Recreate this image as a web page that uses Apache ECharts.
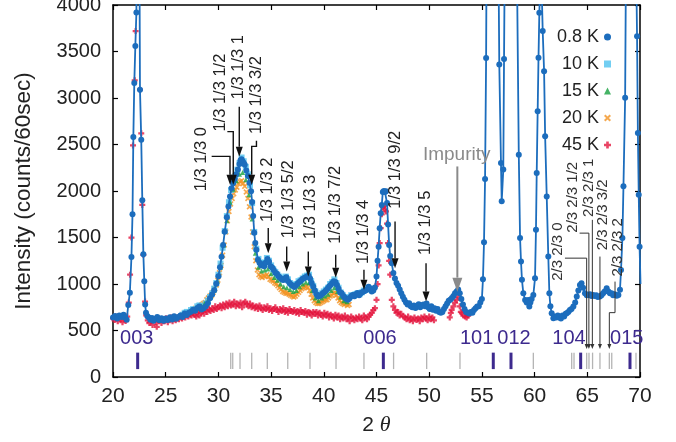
<!DOCTYPE html>
<html>
<head>
<meta charset="utf-8">
<script src="https://cdn.jsdelivr.net/npm/echarts@6/dist/echarts.min.js"></script>
<style>html,body{margin:0;padding:0;background:#fff}#chart{width:676px;height:442px}</style>
</head>
<body>
<div id="chart"></div>
<script>
// 0.8 K, line + dots (peaks above 4000 are clipped)
const k08 = [[20.0,640],[20.2,655],[20.4,630],[20.6,660],[20.8,645],[21.0,670],[21.15,640],[21.3,615],[21.45,775],[21.6,905],[21.75,1290],[21.85,1750],[21.93,2580],[22.02,3160],[22.12,3560],[22.22,3920],[22.35,7800],[22.45,6200],[22.56,3090],[22.68,2550],[22.78,1900],[22.88,1320],[22.97,1030],[23.05,780],[23.13,690],[23.25,655],[23.4,640],[23.55,615],[23.7,635],[23.85,605],[24.0,625],[24.2,645],[24.4,610],[24.6,632],[24.8,605],[25.0,628],[25.2,612],[25.4,642],[25.6,618],[25.8,652],[26.0,626],[26.2,644],[26.4,662],[26.6,646],[26.8,682],[27.0,668],[27.2,692],[27.4,702],[27.6,724],[27.8,712],[28.0,742],[28.2,758],[28.4,726],[28.6,738],[28.8,762],[29.0,792],[29.2,848],[29.4,888],[29.6,932],[29.8,1002],[30.0,1082],[30.15,1180],[30.3,1292],[30.45,1420],[30.6,1562],[30.8,1718],[30.95,1832],[31.1,1942],[31.25,2030],[31.4,2082],[31.55,2128],[31.7,2180],[31.85,2232],[32.0,2290],[32.1,2330],[32.2,2342],[32.3,2318],[32.4,2300],[32.5,2282],[32.65,2220],[32.8,2162],[32.95,2090],[33.1,1998],[33.2,1882],[33.3,1730],[33.4,1552],[33.5,1440],[33.6,1368],[33.75,1262],[33.9,1228],[34.05,1200],[34.2,1212],[34.35,1190],[34.5,1232],[34.65,1268],[34.8,1240],[34.95,1192],[35.1,1178],[35.25,1150],[35.4,1122],[35.55,1110],[35.7,1082],[35.85,1068],[36.0,1050],[36.15,1042],[36.3,1060],[36.45,1072],[36.6,1032],[36.75,1010],[36.9,992],[37.05,980],[37.2,968],[37.35,985],[37.5,1002],[37.65,1020],[37.8,1032],[37.95,1050],[38.1,1062],[38.25,1070],[38.4,1080],[38.55,1088],[38.7,1060],[38.85,1010],[39.0,972],[39.15,930],[39.3,890],[39.45,865],[39.6,870],[39.75,882],[39.9,900],[40.05,912],[40.2,930],[40.35,950],[40.5,972],[40.65,990],[40.8,1010],[40.95,1030],[41.1,1022],[41.25,990],[41.4,950],[41.55,912],[41.7,900],[41.85,870],[42.0,852],[42.15,840],[42.3,830],[42.45,850],[42.6,872],[42.75,882],[42.9,868],[43.05,890],[43.2,902],[43.35,880],[43.5,900],[43.65,912],[43.8,922],[43.95,930],[44.1,942],[44.25,970],[44.4,952],[44.55,920],[44.7,930],[44.85,962],[45.0,1080],[45.1,1250],[45.2,1400],[45.3,1600],[45.4,1760],[45.5,1850],[45.6,1990],[45.7,2000],[45.8,1990],[45.9,1996],[46.0,1870],[46.1,1640],[46.2,1420],[46.3,1300],[46.45,1222],[46.6,1118],[46.75,1060],[46.9,1010],[47.05,980],[47.2,940],[47.35,900],[47.5,862],[47.65,830],[47.8,802],[47.95,780],[48.1,792],[48.25,762],[48.4,750],[48.55,770],[48.7,742],[48.85,760],[49.0,782],[49.15,750],[49.3,770],[49.45,780],[49.6,760],[49.75,790],[49.9,750],[50.05,730],[50.2,760],[50.35,722],[50.5,740],[50.65,712],[50.8,730],[50.95,700],[51.1,690],[51.25,700],[51.4,730],[51.55,760],[51.7,790],[51.85,820],[52.0,830],[52.15,850],[52.3,872],[52.45,900],[52.6,920],[52.75,940],[52.9,900],[53.05,840],[53.2,780],[53.35,730],[53.5,700],[53.65,690],[53.8,682],[53.95,700],[54.1,690],[54.25,720],[54.4,740],[54.55,758],[54.7,760],[54.85,800],[55.0,840],[55.1,1050],[55.2,1450],[55.3,2130],[55.4,3430],[55.5,6000],[55.7,14000],[55.9,22000],[56.1,20000],[56.3,11000],[56.5,5500],[56.65,3360],[56.81,2300],[56.88,1890],[57.03,2230],[57.1,3420],[57.2,5000],[57.4,9000],[57.6,14000],[57.8,13000],[58.0,8000],[58.2,5000],[58.35,4100],[58.5,2390],[58.62,1494],[58.71,1242],[58.8,1045],[58.93,901],[59.1,829],[59.25,800],[59.4,829],[59.5,757],[59.6,800],[59.72,840],[59.88,883],[60.04,1063],[60.13,1583],[60.2,2194],[60.29,2857],[60.37,3432],[60.45,3917],[60.6,4500],[60.77,3720],[60.9,3288],[61.0,2588],[61.15,1942],[61.3,1296],[61.4,901],[61.5,760],[61.62,686],[61.78,632],[61.9,650],[62.05,640],[62.2,660],[62.35,640],[62.5,630],[62.65,660],[62.8,650],[62.95,680],[63.05,686],[63.2,700],[63.35,720],[63.5,730],[63.68,757],[63.85,800],[64.0,865],[64.15,930],[64.3,990],[64.45,1009],[64.6,960],[64.78,901],[64.95,880],[65.1,883],[65.25,890],[65.4,870],[65.55,883],[65.7,870],[65.85,880],[66.0,860],[66.2,865],[66.35,880],[66.5,900],[66.65,920],[66.84,955],[67.0,920],[67.15,900],[67.3,901],[67.45,880],[67.6,890],[67.8,875],[67.95,883],[68.1,937],[68.2,1150],[68.33,1494],[68.43,2050],[68.59,3002],[68.7,5000],[68.9,9000],[69.1,12000],[69.3,10000],[69.5,6000],[69.65,4300],[69.72,3665],[69.8,2624],[69.88,1960],[69.96,1400],[70.05,1000]];

// 10 K
const k10 = [[26.6,670],[26.8,690],[27.0,700],[27.2,690],[27.4,720],[27.6,730],[27.8,720],[28.0,760],[28.2,770],[28.4,740],[28.6,760],[28.8,790],[29.0,820],[29.2,860],[29.4,900],[29.6,950],[29.8,1010],[30.0,1100],[30.2,1220],[30.4,1390],[30.6,1570],[30.8,1730],[31.0,1880],[31.2,2010],[31.4,2100],[31.6,2160],[31.8,2230],[32.0,2300],[32.2,2360],[32.4,2320],[32.6,2260],[32.8,2180],[33.0,2060],[33.2,1870],[33.4,1560],[33.6,1380],[33.8,1270],[34.0,1230],[34.2,1220],[34.4,1230],[34.6,1280],[34.8,1250],[35.0,1200],[35.2,1160],[35.4,1130],[35.6,1100],[35.8,1080],[36.0,1060],[36.2,1050],[36.4,1080],[36.6,1050],[36.8,1010],[37.0,990],[37.2,980],[37.4,1000],[37.6,1030],[37.8,1040],[38.0,1060],[38.2,1080],[38.4,1090],[38.6,1100],[38.8,1030],[39.0,980],[39.2,920],[39.4,880],[39.6,880],[39.8,900],[40.0,920],[40.2,940],[40.4,960],[40.6,1000],[40.8,1020],[41.0,1050],[41.2,1010],[41.4,960],[41.6,910],[41.8,880],[42.0,860],[42.2,840],[42.4,850],[42.6,880],[42.8,870],[43.0,890],[43.2,900],[43.4,890],[43.6,910],[43.8,930],[44.0,940],[44.2,960],[44.4,950]];

// 15 K
const k15 = [[26.6,660],[26.9,680],[27.2,690],[27.5,710],[27.8,720],[28.1,750],[28.4,760],[28.7,790],[29.0,820],[29.3,870],[29.6,930],[29.9,1030],[30.2,1180],[30.5,1420],[30.8,1680],[31.1,1880],[31.4,2020],[31.7,2110],[32.0,2180],[32.3,2200],[32.6,2120],[32.9,1960],[33.2,1700],[33.5,1330],[33.8,1180],[34.1,1140],[34.4,1150],[34.7,1160],[35.0,1110],[35.3,1070],[35.6,1040],[35.9,1000],[36.2,970],[36.5,960],[36.8,940],[37.1,920],[37.4,930],[37.7,970],[38.0,1000],[38.3,1020],[38.6,1010],[38.9,930],[39.2,850],[39.5,820],[39.8,850],[40.1,870],[40.4,890],[40.7,930],[41.0,960],[41.3,920],[41.6,860],[41.9,820],[42.2,810]];

// 20 K
const k20 = [[26.5,650],[26.65,670],[26.8,660],[26.95,690],[27.1,680],[27.25,700],[27.4,690],[27.55,720],[27.7,710],[27.85,740],[28.0,730],[28.15,760],[28.3,750],[28.45,780],[28.6,790],[28.75,800],[28.9,830],[29.05,850],[29.2,870],[29.35,880],[29.5,910],[29.65,950],[29.8,990],[29.95,1040],[30.1,1120],[30.25,1200],[30.4,1310],[30.55,1420],[30.7,1560],[30.85,1680],[31.0,1780],[31.15,1860],[31.3,1920],[31.45,1970],[31.6,2010],[31.75,2040],[31.9,2080],[32.05,2100],[32.2,2110],[32.35,2080],[32.5,2050],[32.65,1990],[32.8,1920],[32.95,1830],[33.1,1720],[33.25,1560],[33.4,1400],[33.55,1250],[33.7,1150],[33.85,1100],[34.0,1080],[34.15,1070],[34.3,1090],[34.45,1080],[34.6,1100],[34.75,1080],[34.9,1050],[35.05,1040],[35.2,1030],[35.35,1010],[35.5,1000],[35.65,980],[35.8,960],[35.95,940],[36.1,920],[36.25,910],[36.4,900],[36.55,900],[36.7,890],[36.85,880],[37.0,870],[37.15,860],[37.3,870],[37.45,890],[37.6,910],[37.75,930],[37.9,950],[38.05,960],[38.2,970],[38.35,975],[38.5,960],[38.65,930],[38.8,890],[38.95,850],[39.1,820],[39.25,800],[39.4,790],[39.55,790],[39.7,800],[39.85,810],[40.0,820],[40.15,830],[40.3,830],[40.45,850],[40.6,870],[40.75,880],[40.9,900],[41.05,905],[41.2,880],[41.35,850],[41.5,820],[41.65,800],[41.8,790],[41.95,780],[42.1,790],[42.25,770],[42.4,780]];

// 45 K
const k45 = [[20.0,630],[20.15,612],[20.3,648],[20.45,600],[20.6,640],[20.75,622],[20.9,590],[21.05,642],[21.2,602],[21.35,650],[21.5,800],[21.62,1100],[21.75,1500],[21.9,2490],[22.06,3190],[22.15,3720],[22.25,5200],[22.35,7500],[22.45,6000],[22.56,3090],[22.68,2620],[22.78,1850],[22.88,1314],[23.04,811],[23.15,662],[23.3,610],[23.45,580],[23.6,602],[23.75,560],[23.9,620],[24.05,590],[24.15,540],[24.3,600],[24.45,622],[24.6,580],[24.75,612],[24.9,600],[25.05,632],[25.2,590],[25.35,620],[25.5,640],[25.65,600],[25.8,630],[25.95,610],[26.1,640],[26.25,620],[26.4,650],[26.55,630],[26.7,660],[26.85,640],[27.0,670],[27.15,650],[27.3,680],[27.45,660],[27.6,690],[27.75,670],[27.9,650],[28.05,700],[28.2,660],[28.35,690],[28.5,710],[28.65,680],[28.8,720],[28.95,700],[29.1,730],[29.25,710],[29.4,740],[29.55,720],[29.7,760],[29.85,730],[30.0,750],[30.15,770],[30.3,740],[30.45,780],[30.6,750],[30.75,790],[30.9,760],[31.05,800],[31.2,770],[31.35,780],[31.5,810],[31.65,760],[31.8,790],[31.95,770],[32.1,800],[32.25,750],[32.4,790],[32.55,810],[32.7,780],[32.85,760],[33.0,790],[33.15,750],[33.3,770],[33.45,740],[33.6,760],[33.75,730],[33.9,770],[34.05,740],[34.2,720],[34.35,750],[34.5,730],[34.65,760],[34.8,720],[34.95,740],[35.1,710],[35.25,730],[35.4,750],[35.55,720],[35.7,700],[35.85,730],[36.0,710],[36.15,740],[36.3,700],[36.45,720],[36.6,690],[36.75,730],[36.9,710],[37.05,700],[37.2,720],[37.35,690],[37.5,710],[37.65,680],[37.8,720],[37.95,700],[38.1,690],[38.25,710],[38.4,670],[38.55,700],[38.7,690],[38.85,660],[39.0,700],[39.15,680],[39.3,700],[39.45,660],[39.6,690],[39.75,670],[39.9,650],[40.05,690],[40.2,660],[40.35,680],[40.5,640],[40.65,670],[40.8,650],[40.95,630],[41.1,670],[41.25,640],[41.4,660],[41.55,620],[41.7,650],[41.85,630],[42.0,660],[42.15,620],[42.3,640],[42.45,600],[42.6,650],[42.75,630],[42.9,610],[43.05,640],[43.2,620],[43.35,650],[43.5,630],[43.65,610],[43.8,660],[43.95,640],[44.1,620],[44.25,650],[44.4,670],[44.55,690],[44.7,720],[44.85,740],[45.0,830],[45.1,1000],[45.2,1200],[45.3,1440],[45.4,1600],[45.5,1750],[45.6,1830],[45.7,1840],[45.8,1800],[45.9,1780],[46.0,1650],[46.1,1440],[46.2,1250],[46.3,1100],[46.45,830],[46.6,760],[46.75,722],[46.9,690],[47.05,700],[47.2,660],[47.35,680],[47.55,650],[47.7,640],[47.85,620],[48.0,650],[48.15,610],[48.3,630],[48.45,600],[48.6,640],[48.8,614],[48.95,630],[49.1,600],[49.25,640],[49.4,620],[49.55,650],[49.7,630],[49.85,610],[50.0,650],[50.15,620],[50.3,640],[50.45,610],[51.95,640],[52.05,690],[52.13,722],[52.3,760],[52.45,800],[52.6,829],[52.75,865],[52.9,760],[53.0,700],[53.1,686],[53.25,660],[53.4,650],[53.55,640],[53.7,660],[53.8,686]];

// reflection positions (tick band under the data)
const mainPeaks = [22.34, 45.65, 56.08, 57.76, 64.37, 69.05];
const satPeaks = [31.17, 31.36, 32.05, 33.16, 34.64, 36.58, 38.69, 41.16, 43.81, 46.62, 49.76, 52.92, 59.88, 63.52, 63.74, 64.94, 65.16, 65.5, 66.2, 67.09, 67.32, 69.62];
const tickBand = [85, 262];
const hklLabels = ['003', '006', '101', '012', '104', '015'];
const hklLabelX = [22.25, 45.33, 54.5, 58.05, 63.26, 68.74];
const hklLabelY = 409;

// arrow annotations, in data coordinates
const annLabels = ['1/3 1/3 0', '1/3 1/3 1/2', '1/3 1/3 1', '1/3 1/3 3/2', '1/3 1/3 2', '1/3 1/3 5/2', '1/3 1/3 3', '1/3 1/3 7/2', '1/3 1/3 4', '1/3 1/3 9/2', '1/3 1/3 5', 'Impurity', '2/3 2/3 0', '2/3 2/3 1/2', '2/3 2/3 1', '2/3 2/3 3/2', '2/3 2/3 2'];
const annKind = ['a', 'a', 'a', 'a', 'a', 'a', 'a', 'a', 'a', 'a', 'a', 'imp', 'b', 'b', 'b', 'b', 'b'];
const annText = [[28.40, 2342], [30.15, 3058], [31.95, 3332], [33.61, 3031], [34.66, 2013], [36.6, 1911], [38.69, 1830], [41.11, 1852], [43.77, 1561], [46.83, 2229], [49.6, 1658], [52.61, 2390], [62.17, 1349], [63.64, 1933], [65.16, 2035], [66.44, 1744], [67.87, 1394]];
const annPaths = [
  [[29.36, 2372], [31.10, 2372], [31.10, 2067]],
  [[30.85, 2638], [31.41, 2638], [31.41, 2067]],
  [[31.98, 2907], [31.98, 2369]],
  [[33.61, 2541], [33.61, 2480], [33.16, 2480], [33.16, 2067]],
  [[34.73, 1601], [34.73, 1331]],
  [[36.48, 1403], [36.48, 1134]],
  [[38.53, 1349], [38.53, 1080]],
  [[41.13, 1314], [41.13, 1066]],
  [[43.81, 1152], [43.81, 937]],
  [[46.76, 1672], [46.76, 1170]],
  [[49.7, 1224], [49.7, 811]],
  [[52.67, 2264], [52.67, 918]],
  [[62.88, 1278], [64.94, 1278], [64.94, 301]],
  [[64.27, 1547], [65.15, 1547], [65.15, 301]],
  [[65.48, 1690], [65.48, 301]],
  [[66.2, 1295], [66.2, 301]],
  [[67.63, 1026], [67.63, 692], [67.09, 692], [67.09, 301]]
];

const FONT = '"Liberation Sans", Arial, sans-serif';
const plusPath = 'path://M2.5,0h3v2.5h2.5v3h-2.5v2.5h-3v-2.5h-2.5v-3h2.5z';
const crossPath = 'path://M0,1.6L1.6,0L4,2.4L6.4,0L8,1.6L5.6,4L8,6.4L6.4,8L4,5.6L1.6,8L0,6.4L2.4,4z';
const annStyle = {
  a: { color: '#111', lw: 1.4, head: [10, 7], fs: 16.5, text: '#222', rot: true },
  b: { color: '#333', lw: 1, head: [5, 4], fs: 15, text: '#333', rot: true },
  imp: { color: '#8a8a8a', lw: 2, head: [14, 10], fs: 19, text: '#8a8a8a', rot: false }
};

function annRender(params, api) {
  const i = api.value(2);
  const st = annStyle[annKind[i]];
  const pts = annPaths[i].map(p => api.coord(p));
  const tp = api.coord(annText[i]);
  const n = pts.length;
  const a = pts[n - 2], b = pts[n - 1];
  let dx = b[0] - a[0], dy = b[1] - a[1];
  const len = Math.hypot(dx, dy);
  dx /= len; dy /= len;
  const L = st.head[0], W = st.head[1];
  const bx = b[0] - dx * L, by = b[1] - dy * L;
  return {
    type: 'group',
    children: [
      { type: 'polyline', shape: { points: pts.slice(0, n - 1).concat([[bx, by]]) }, style: { stroke: st.color, lineWidth: st.lw, fill: 'none' } },
      { type: 'polygon', shape: { points: [b, [bx - dy * W / 2, by + dx * W / 2], [bx + dy * W / 2, by - dx * W / 2]] }, style: { fill: st.color } },
      { type: 'text', x: tp[0], y: tp[1], rotation: st.rot ? Math.PI / 2 : 0,
        style: { text: annLabels[i], fontSize: st.fs, fontFamily: FONT, fill: st.text, align: 'center', verticalAlign: 'middle' } }
    ]
  };
}

function tickRender(color, width) {
  return function (params, api) {
    const p0 = api.coord([api.value(0), api.value(1)]);
    const p1 = api.coord([api.value(0), api.value(2)]);
    return { type: 'line', shape: { x1: p0[0], y1: p0[1], x2: p1[0], y2: p1[1] }, style: { stroke: color, lineWidth: width } };
  };
}

const axisLine = { onZero: false, lineStyle: { color: '#000', width: 1.5 } };
const axisTick = { inside: true, length: 5, lineStyle: { color: '#000', width: 1.2 } };

const chart = echarts.init(document.getElementById('chart'));
chart.setOption({
  animation: false,
  grid: { left: 113, right: 36, top: 5, bottom: 65, outerBoundsMode: 'none' },
  legend: {
    orient: 'vertical', right: 60, top: 22, align: 'right',
    itemWidth: 7, itemHeight: 7, itemGap: 7, selectedMode: false,
    textStyle: { fontSize: 18, color: '#222', fontFamily: FONT, lineHeight: 20 },
    data: [
      { name: '0.8 K', icon: 'circle' },
      { name: '10 K', icon: 'rect' },
      { name: '15 K', icon: 'triangle' },
      { name: '20 K', icon: crossPath },
      { name: '45 K', icon: plusPath }
    ]
  },
  xAxis: [{
    type: 'value', min: 20, max: 70, interval: 5, position: 'bottom',
    axisLine, axisTick,
    axisLabel: { fontSize: 21, color: '#222', fontFamily: FONT, margin: 9 },
    splitLine: { show: false },
    name: '{a|2 }{b|θ}', nameLocation: 'middle', nameGap: 37,
    nameTextStyle: { rich: {
      a: { fontSize: 21, color: '#222', fontFamily: FONT },
      b: { fontSize: 22, color: '#222', fontFamily: '"Liberation Serif", serif', fontStyle: 'italic' }
    } }
  }, {
    type: 'value', min: 20, max: 70, interval: 5, position: 'top',
    axisLine, axisTick, axisLabel: { show: false }, splitLine: { show: false }
  }],
  yAxis: [{
    type: 'value', min: 0, max: 4000, interval: 500, position: 'left',
    axisLine, axisTick,
    axisLabel: { fontSize: 20, color: '#222', fontFamily: FONT, margin: 12, formatter: v => String(v) },
    splitLine: { show: false },
    name: 'Intensity (counts/60sec)', nameLocation: 'middle', nameGap: 78,
    nameTextStyle: { fontSize: 22.5, color: '#222', fontFamily: FONT }
  }, {
    type: 'value', min: 0, max: 4000, interval: 500, position: 'right',
    axisLine, axisTick, axisLabel: { show: false }, splitLine: { show: false }
  }],
  series: [
    {
      type: 'custom', silent: true, renderItem: tickRender('#b4b4b4', 1.3),
      encode: { x: 0, y: [1, 2] },
      data: satPeaks.map(x => [x, tickBand[0], tickBand[1]])
    },
    {
      type: 'custom', silent: true, renderItem: tickRender('#3d2a8e', 3),
      encode: { x: 0, y: [1, 2] },
      data: mainPeaks.map(x => [x, tickBand[0], tickBand[1]])
    },
    {
      type: 'custom', silent: true,
      renderItem: (params, api) => {
        const p = api.coord([api.value(0), api.value(1)]);
        return { type: 'text', x: p[0], y: p[1],
          style: { text: hklLabels[api.value(2)], fontSize: 20, fontFamily: FONT, fill: '#3d2a8e', align: 'center', verticalAlign: 'middle' } };
      },
      encode: { x: 0, y: 1 },
      data: hklLabelX.map((x, i) => [x, hklLabelY, i])
    },
    { name: '20 K', type: 'scatter', silent: true, symbol: crossPath, symbolSize: 6, itemStyle: { color: '#f29424' }, data: k20 },
    { name: '10 K', type: 'scatter', silent: true, symbol: 'rect', symbolSize: 6, itemStyle: { color: '#4fc2ef' }, data: k10 },
    { name: '15 K', type: 'scatter', silent: true, symbol: 'triangle', symbolSize: 5, itemStyle: { color: '#16a03e' }, data: k15 },
    {
      name: '0.8 K', type: 'line', silent: true, symbol: 'circle', symbolSize: 6, showAllSymbol: true,
      lineStyle: { color: '#1c6dbd', width: 1.8 }, itemStyle: { color: '#1c6dbd' }, data: k08
    },
    { name: '45 K', type: 'scatter', silent: true, symbol: plusPath, symbolSize: 6, itemStyle: { color: '#e4163e' }, data: k45 },
    {
      type: 'custom', silent: true, renderItem: annRender, z: 5,
      encode: { x: 0, y: 1 },
      data: annText.map((p, i) => [p[0], p[1], i])
    }
  ]
});
</script>
</body>
</html>
